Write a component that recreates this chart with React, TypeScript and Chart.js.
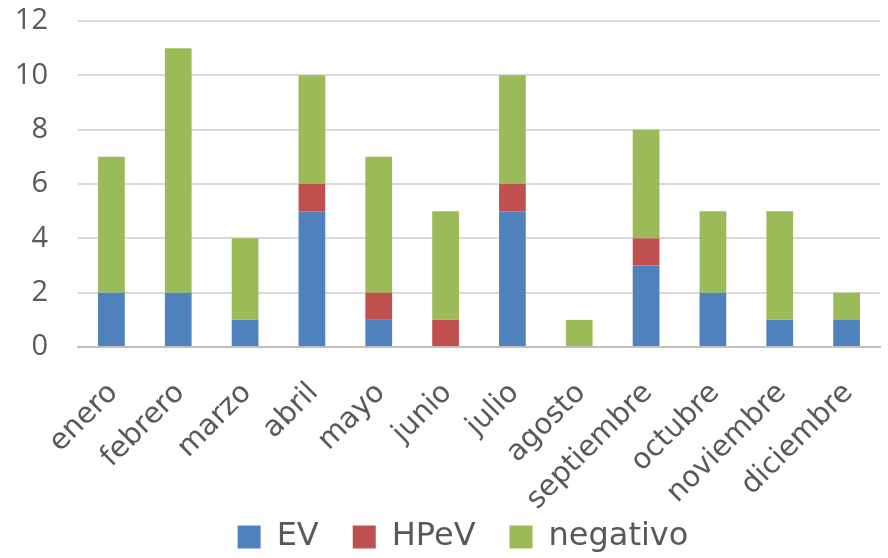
import React, { useEffect, useRef } from "react";
import { Chart, registerables } from "chart.js";

Chart.register(...registerables);

const categories = ["enero", "febrero", "marzo", "abril", "mayo", "junio", "julio", "agosto", "septiembre", "octubre", "noviembre", "diciembre"];
const evValues = [2, 2, 1, 5, 1, 0, 5, 0, 3, 2, 1, 1];
const hpevValues = [0, 0, 0, 1, 1, 1, 1, 0, 1, 0, 0, 0];
const negativoValues = [5, 9, 3, 4, 5, 4, 4, 1, 4, 3, 4, 1];

const FONT = "'Open Sans', sans-serif";
const WIDE = "'DejaVu Sans', sans-serif";
const TEXT = "#595959";

const legendShift = {
  id: "legendShift",
  afterLayout(chart: any) {
    const lg = chart.legend;
    if (!lg) return;
    lg.left += 23;
    lg.right += 23;
    lg.top -= 35;
    lg.bottom -= 35;
  },
};

export default function App() {
  const ref = useRef<HTMLCanvasElement | null>(null);
  useEffect(() => {
    if (!ref.current) return;
    const common = { categoryPercentage: 1, barPercentage: 0.4, borderWidth: 0 };
    const chart = new Chart(ref.current, {
      type: "bar",
      data: {
        labels: categories,
        datasets: [
          { label: "EV", data: evValues, backgroundColor: "#4F81BD", ...common },
          { label: "HPeV", data: hpevValues, backgroundColor: "#C0504D", ...common },
          { label: "negativo", data: negativoValues, backgroundColor: "#9BBB59", ...common },
        ],
      },
      plugins: [legendShift],
      options: {
        animation: false,
        responsive: true,
        maintainAspectRatio: false,
        layout: { padding: { left: 0, right: 8, top: 21, bottom: -40 } },
        plugins: {
          tooltip: { enabled: false },
          legend: {
            position: "bottom",
            labels: {
              boxWidth: 23,
              boxHeight: 23,
              padding: 34,
              color: TEXT,
              font: { family: WIDE, size: 32 },
            },
          },
        },
        scales: {
          x: {
            stacked: true,
            grid: { display: false },
            border: { display: true, color: "#BFBFBF", width: 2 },
            ticks: {
              color: TEXT,
              font: { family: WIDE, size: 29 },
              maxRotation: 45,
              minRotation: 45,
              autoSkip: false,
              padding: 21,
              labelOffset: 2,
            },
            afterFit: (scale: any) => {
              scale.paddingLeft = 0;
              scale.paddingRight = 0;
              scale.height = 175;
            },
          },
          y: {
            stacked: true,
            min: 0,
            max: 12,
            grid: { color: "#D9D9D9", lineWidth: 2, drawTicks: false },
            border: { display: false },
            ticks: {
              stepSize: 2,
              color: TEXT,
              font: { family: FONT, size: 29 },
              padding: 30,
            },
            afterFit: (scale: any) => {
              scale.width = 78;
              scale.paddingTop = 0;
              scale.paddingBottom = 0;
            },
          },
        },
      },
    });
    return () => chart.destroy();
  }, []);
  return (
    <div style={{ position: "fixed", left: 0, top: 0, width: 888, height: 558, background: "#fff" }}>
      <canvas ref={ref} />
    </div>
  );
}
